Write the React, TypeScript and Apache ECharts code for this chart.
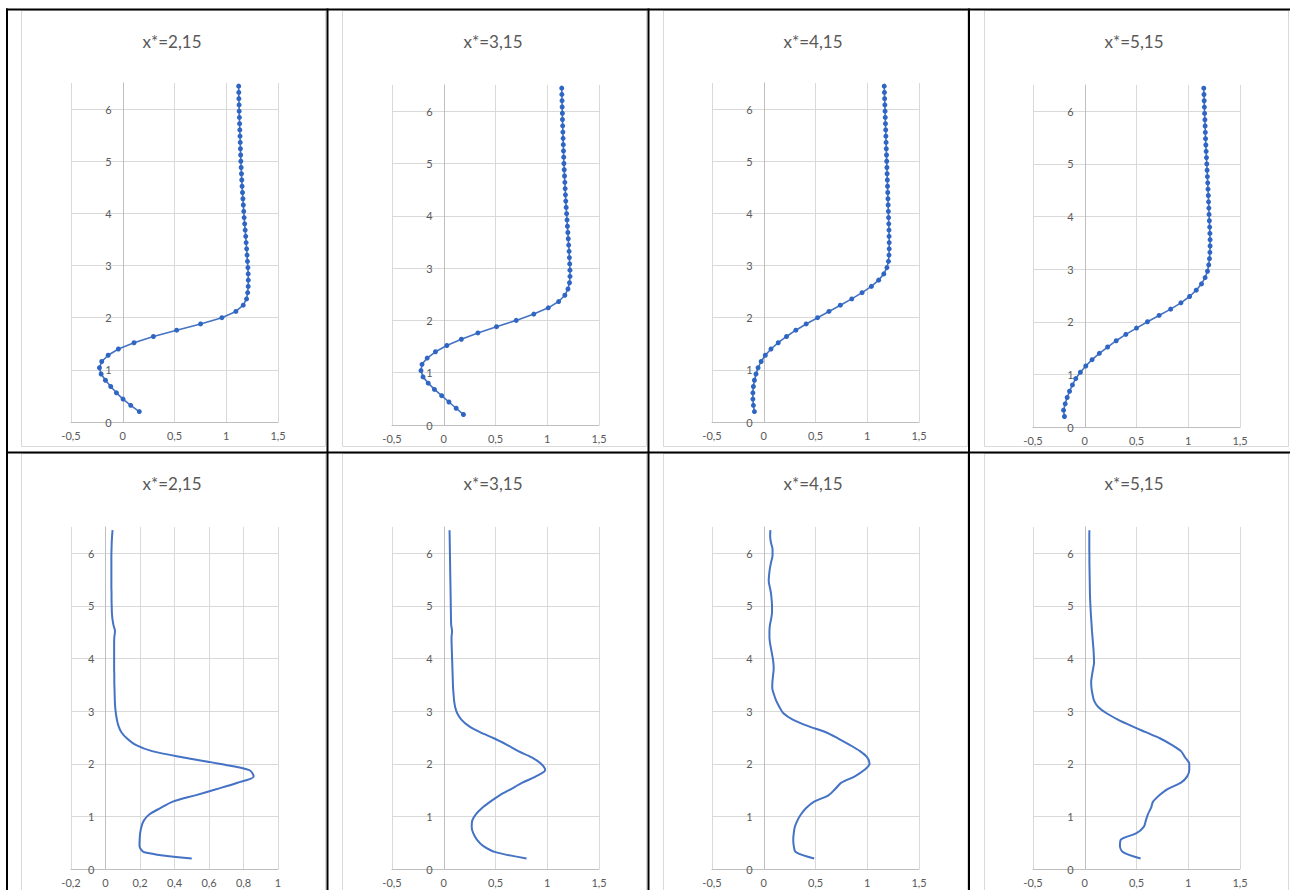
import React, { useEffect, useRef } from "react";
import * as echarts from "echarts";

// depth values (vertical axis) shared by every panel
const depth = [0.2, 0.32, 0.44, 0.56, 0.68, 0.8, 0.92, 1.04, 1.16, 1.28, 1.4, 1.52, 1.64, 1.76, 1.88, 2, 2.12, 2.24, 2.36, 2.48, 2.6, 2.72, 2.84, 2.96, 3.08, 3.2, 3.32, 3.44, 3.56, 3.68, 3.8, 3.92, 4.04, 4.16, 4.28, 4.4, 4.52, 4.64, 4.76, 4.88, 5, 5.12, 5.24, 5.36, 5.48, 5.6, 5.72, 5.84, 5.96, 6.08, 6.2, 6.32, 6.44];

const titles = ["x*=2,15", "x*=3,15", "x*=4,15", "x*=5,15"];

// top row (line with markers)
const top215 = [0.16, 0.077, 0.003, -0.061, -0.116, -0.167, -0.209, -0.225, -0.203, -0.141, -0.042, 0.109, 0.296, 0.521, 0.752, 0.958, 1.093, 1.164, 1.196, 1.207, 1.212, 1.213, 1.212, 1.209, 1.205, 1.201, 1.197, 1.192, 1.188, 1.183, 1.178, 1.173, 1.169, 1.165, 1.161, 1.157, 1.153, 1.15, 1.147, 1.144, 1.141, 1.139, 1.137, 1.135, 1.133, 1.131, 1.129, 1.127, 1.125, 1.124, 1.122, 1.121, 1.12];
const top315 = [0.19, 0.12, 0.05, -0.02, -0.09, -0.15, -0.2, -0.22, -0.21, -0.16, -0.08, 0.03, 0.17, 0.33, 0.51, 0.7, 0.87, 1.01, 1.11, 1.17, 1.2, 1.215, 1.22, 1.219, 1.217, 1.214, 1.211, 1.207, 1.203, 1.199, 1.195, 1.191, 1.187, 1.183, 1.179, 1.176, 1.173, 1.17, 1.167, 1.164, 1.161, 1.159, 1.157, 1.155, 1.153, 1.151, 1.149, 1.147, 1.146, 1.144, 1.143, 1.141, 1.14];
const top415 = [-0.09, -0.1, -0.105, -0.105, -0.1, -0.09, -0.075, -0.055, -0.025, 0.015, 0.07, 0.14, 0.22, 0.31, 0.41, 0.52, 0.63, 0.74, 0.85, 0.95, 1.04, 1.11, 1.16, 1.19, 1.205, 1.21, 1.212, 1.212, 1.211, 1.21, 1.208, 1.206, 1.204, 1.202, 1.2, 1.198, 1.196, 1.194, 1.192, 1.19, 1.188, 1.186, 1.184, 1.182, 1.18, 1.178, 1.176, 1.174, 1.172, 1.17, 1.168, 1.166, 1.164];
const top515 = [-0.196, -0.205, -0.189, -0.17, -0.147, -0.119, -0.087, -0.042, 0.01, 0.071, 0.141, 0.221, 0.304, 0.397, 0.5, 0.606, 0.718, 0.83, 0.929, 1.013, 1.077, 1.128, 1.163, 1.186, 1.198, 1.205, 1.209, 1.211, 1.211, 1.209, 1.207, 1.204, 1.201, 1.199, 1.196, 1.194, 1.191, 1.188, 1.185, 1.182, 1.179, 1.176, 1.173, 1.17, 1.167, 1.165, 1.163, 1.161, 1.158, 1.156, 1.154, 1.152, 1.15];

// bottom row (smooth line)
const bot215 = [0.5, 0.225, 0.197, 0.198, 0.201, 0.208, 0.222, 0.255, 0.32, 0.39, 0.52, 0.646, 0.765, 0.859, 0.834, 0.66, 0.453, 0.27, 0.175, 0.125, 0.092, 0.075, 0.066, 0.06, 0.056, 0.054, 0.053, 0.052, 0.051, 0.051, 0.05, 0.05, 0.05, 0.05, 0.05, 0.051, 0.055, 0.046, 0.04, 0.037, 0.036, 0.035, 0.035, 0.034, 0.034, 0.034, 0.034, 0.034, 0.034, 0.035, 0.036, 0.038, 0.041];
const bot315 = [0.8, 0.5, 0.38, 0.32, 0.285, 0.27, 0.275, 0.31, 0.37, 0.45, 0.54, 0.65, 0.76, 0.89, 0.98, 0.94, 0.85, 0.72, 0.61, 0.49, 0.35, 0.24, 0.17, 0.13, 0.11, 0.1, 0.095, 0.09, 0.088, 0.086, 0.084, 0.082, 0.08, 0.078, 0.076, 0.075, 0.08, 0.072, 0.07, 0.069, 0.068, 0.067, 0.066, 0.065, 0.064, 0.063, 0.062, 0.061, 0.06, 0.059, 0.058, 0.057, 0.056];
const bot415 = [0.487, 0.31, 0.29, 0.285, 0.29, 0.3, 0.325, 0.36, 0.41, 0.487, 0.625, 0.69, 0.75, 0.88, 0.97, 1.022, 1.0, 0.93, 0.83, 0.72, 0.6, 0.423, 0.28, 0.19, 0.151, 0.12, 0.098, 0.082, 0.084, 0.09, 0.096, 0.093, 0.084, 0.073, 0.062, 0.055, 0.055, 0.06, 0.072, 0.08, 0.08, 0.076, 0.07, 0.058, 0.048, 0.052, 0.06, 0.072, 0.085, 0.085, 0.07, 0.062, 0.064];
const bot515 = [0.54, 0.37, 0.34, 0.35, 0.5, 0.57, 0.59, 0.61, 0.64, 0.66, 0.72, 0.8, 0.93, 0.99, 1.01, 1.01, 0.97, 0.93, 0.84, 0.73, 0.59, 0.45, 0.32, 0.21, 0.13, 0.09, 0.075, 0.065, 0.062, 0.07, 0.08, 0.09, 0.088, 0.085, 0.08, 0.075, 0.07, 0.066, 0.062, 0.058, 0.055, 0.052, 0.05, 0.049, 0.048, 0.047, 0.046, 0.045, 0.045, 0.044, 0.044, 0.044, 0.045];

// axis ranges
const xRangeWide = [-0.5, 1.5, 0.5];
const xRangeNarrow = [-0.2, 1, 0.2];
const yRange = [0, 6.5, 1];

const topSeries = [top215, top315, top415, top515];
const botSeries = [bot215, bot315, bot415, bot515];

const FONT = "Lato, 'Open Sans', sans-serif";
const BLUE = "#4472C4";

export default function App() {
  const ref = useRef<HTMLDivElement>(null);

  useEffect(() => {
    if (!ref.current) return;
    const chart = echarts.init(ref.current, undefined, { renderer: "svg" });

    const chartLeft = [21.5, 342.5, 663.5, 984.5];
    const plotLeft = [71, 392, 712, 1033];
    const plotW = 207;
    const topGrid = [
      { top: 83, h: 339 },
      { top: 85, h: 340 },
      { top: 83, h: 339 },
      { top: 85, h: 342 },
    ];
    const botGrid = { top: 527, h: 342 };
    const titleCx = [172, 493, 813, 1134];

    const fmt = (v: number) => String(Number(v.toFixed(2))).replace(".", ",");

    const grids: any[] = [];
    const xAxes: any[] = [];
    const yAxes: any[] = [];
    const series: any[] = [];
    const graphics: any[] = [];

    const makeX = (idx: number, r: number[]) => ({
      type: "value",
      gridIndex: idx,
      min: r[0],
      max: r[1],
      interval: r[2],
      axisLine: { show: true, onZero: false, lineStyle: { color: "#BFBFBF", width: 1 } },
      axisTick: { show: false },
      axisLabel: { formatter: fmt, color: "#595959", fontSize: 11, fontFamily: FONT, margin: 8 },
      splitLine: { show: true, lineStyle: { color: "#D9D9D9", width: 1 } },
    });
    // the vertical axis crosses the horizontal one at 0: shift it there
    const makeY = (idx: number, r: number[]) => ({
      type: "value",
      gridIndex: idx,
      min: yRange[0],
      max: yRange[1],
      interval: yRange[2],
      offset: -Math.round((-r[0] / (r[1] - r[0])) * plotW * 100) / 100,
      axisLine: { show: true, onZero: false, lineStyle: { color: "#BFBFBF", width: 1 } },
      axisTick: { show: false },
      axisLabel: { formatter: fmt, color: "#595959", fontSize: 11, fontFamily: FONT, margin: 11, showMaxLabel: false },
      splitLine: { show: true, showMaxLine: false, lineStyle: { color: "#D9D9D9", width: 1 } },
    });

    for (let c = 0; c < 4; c++) {
      // top row
      const gi = grids.length;
      grids.push({ left: plotLeft[c], top: topGrid[c].top, width: plotW, height: topGrid[c].h, containLabel: false });
      xAxes.push(makeX(gi, xRangeWide));
      yAxes.push(makeY(gi, xRangeWide));
      series.push({
        type: "line",
        name: titles[c] + " a",
        xAxisIndex: gi,
        yAxisIndex: gi,
        data: topSeries[c].map((x, i) => [x, depth[i]]),
        symbol: "circle",
        symbolSize: 5,
        showSymbol: true,
        showAllSymbol: true,
        lineStyle: { color: BLUE, width: 1.6 },
        itemStyle: { color: "#2F66C4" },
        z: 3,
      });
      // bottom row
      const gj = grids.length;
      const xr = c === 0 ? xRangeNarrow : xRangeWide;
      grids.push({ left: plotLeft[c], top: botGrid.top, width: plotW, height: botGrid.h, containLabel: false });
      xAxes.push(makeX(gj, xr));
      yAxes.push(makeY(gj, xr));
      series.push({
        type: "line",
        name: titles[c] + " b",
        xAxisIndex: gj,
        yAxisIndex: gj,
        data: botSeries[c].map((x, i) => [x, depth[i]]),
        smooth: 0.3,
        showSymbol: false,
        symbol: "none",
        lineStyle: { color: BLUE, width: 2 },
        z: 3,
      });

      // chart area borders
      graphics.push({
        type: "rect",
        shape: { x: chartLeft[c], y: 10.5, width: 304, height: 436 },
        style: { fill: "none", stroke: "#D9D9D9", lineWidth: 1 },
        silent: true,
      });
      graphics.push({
        type: "rect",
        shape: { x: chartLeft[c], y: 453.5, width: 304, height: 460 },
        style: { fill: "none", stroke: "#D9D9D9", lineWidth: 1 },
        silent: true,
      });
      // titles
      for (const ty of [41, 483]) {
        graphics.push({
          type: "text",
          x: titleCx[c],
          y: ty,
          style: {
            text: titles[c],
            fill: "#595959",
            font: `normal 17px ${FONT}`,
            align: "center",
            verticalAlign: "middle",
            textAlign: "center",
            textVerticalAlign: "middle",
          },
          silent: true,
        });
      }
    }

    // table borders
    const black = { stroke: "#000000", lineWidth: 2 };
    graphics.push({ type: "line", shape: { x1: 6, y1: 9.5, x2: 1290, y2: 9.5 }, style: black, silent: true });
    graphics.push({ type: "line", shape: { x1: 6, y1: 452.5, x2: 1290, y2: 452.5 }, style: black, silent: true });
    for (const vx of [7, 327.5, 648.5, 969]) {
      graphics.push({ type: "line", shape: { x1: vx, y1: 8.5, x2: vx, y2: 890 }, style: black, silent: true });
    }

    chart.setOption({
      animation: false,
      backgroundColor: "#ffffff",
      grid: grids,
      xAxis: xAxes,
      yAxis: yAxes,
      series,
      graphic: { elements: graphics },
    });

    return () => chart.dispose();
  }, []);

  return (
    <div
      ref={ref}
      style={{ position: "absolute", left: 0, top: 0, width: 1290, height: 890 }}
    />
  );
}
